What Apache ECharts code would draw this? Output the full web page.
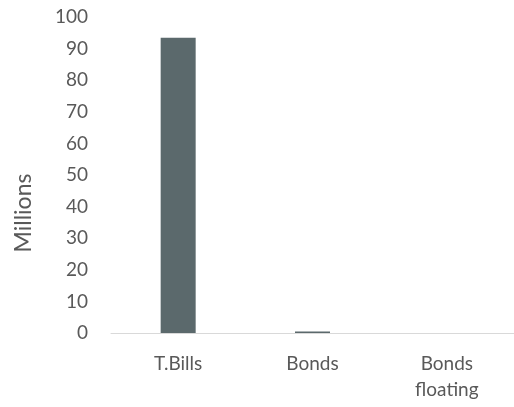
<!DOCTYPE html>
<html>
<head>
<meta charset="utf-8">
<script src="https://cdn.jsdelivr.net/npm/echarts@6/dist/echarts.min.js"></script>
<style>
  html, body { margin: 0; padding: 0; background: #fff; }
  #chart { width: 514px; height: 407px; }
</style>
</head>
<body>
<div id="chart"></div>
<script>
// Outstanding amounts by instrument, in millions
const categories = ['T.Bills', 'Bonds', 'Bonds\nfloating'];
const amounts = [93.4, 0.5, 0];
const yTicks = { min: 0, max: 100, step: 10 };

const chart = echarts.init(document.getElementById('chart'));
const textColor = '#595959';
const font = 'Lato, "Open Sans", sans-serif';

chart.setOption({
  animation: false,
  grid: { left: 111, top: 17, width: 407, height: 316, containLabel: false },
  xAxis: {
    type: 'category',
    data: categories,
    axisLine: { lineStyle: { color: '#d9d9d9', width: 1 } },
    axisTick: { show: false },
    axisLabel: { color: textColor, fontSize: 19, fontFamily: font, margin: 18, lineHeight: 26 }
  },
  yAxis: {
    type: 'value',
    min: yTicks.min,
    max: yTicks.max,
    interval: yTicks.step,
    axisLine: { show: false },
    axisTick: { show: false },
    splitLine: { show: false },
    axisLabel: { color: textColor, fontSize: 19, fontFamily: font, margin: 23 }
  },
  graphic: [{
    type: 'text',
    x: 24,
    y: 213,
    rotation: Math.PI / 2,
    style: {
      text: 'Millions', fill: textColor, fontSize: 23, fontFamily: font,
      textAlign: 'center', textVerticalAlign: 'middle'
    }
  }],
  series: [{
    type: 'bar',
    data: amounts,
    barWidth: 35,
    itemStyle: { color: '#5b696c' }
  }]
});
</script>
</body>
</html>
